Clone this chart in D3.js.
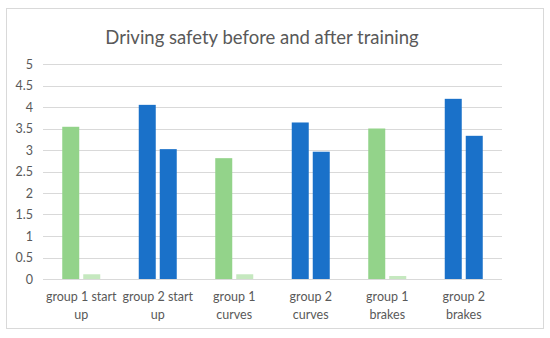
<!DOCTYPE html>
<html>
<head>
<meta charset="utf-8">
<script src="https://cdn.jsdelivr.net/npm/d3@7"></script>
<style>
body { margin: 0; background: #fff; font-family: Lato, "Liberation Sans", sans-serif; }
</style>
</head>
<body>
<svg id="chart" width="550" height="338"></svg>
<script>
var categories = ["group 1 start up", "group 2 start up", "group 1 curves", "group 2 curves", "group 1 brakes", "group 2 brakes"];
var beforeValues = [3.54, 4.05, 2.81, 3.64, 3.5, 4.19];
var afterValues = [0.11, 3.02, 0.11, 2.96, 0.07, 3.33];
var yTicks = [0, 0.5, 1, 1.5, 2, 2.5, 3, 3.5, 4, 4.5, 5];
var catLines = [["group 1 start", "up"], ["group 2 start", "up"], ["group 1", "curves"], ["group 2", "curves"], ["group 1", "brakes"], ["group 2", "brakes"]];

var svg = d3.select("#chart");

// outer frame
svg.append("rect")
	.attr("x", 6.5).attr("y", 8.5)
	.attr("width", 537).attr("height", 320)
	.attr("fill", "#fff").attr("stroke", "#d9d9d9");

var plotL = 43, plotR = 502, plotT = 64, plotB = 279;

var x = d3.scaleBand().domain(categories).range([plotL, plotR]);
var y = d3.scaleLinear().domain([0, 5]).range([plotB, plotT]);

// gridlines
svg.append("g").selectAll("line").data(yTicks).enter()
	.append("line")
	.attr("x1", plotL).attr("x2", plotR)
	.attr("y1", function(d) { return Math.round(y(d)) + 0.5; })
	.attr("y2", function(d) { return Math.round(y(d)) + 0.5; })
	.attr("stroke", "#d9d9d9");

// y tick labels
svg.append("g").selectAll("text").data(yTicks).enter()
	.append("text")
	.attr("x", 33)
	.attr("y", function(d) { return y(d) + 4.5; })
	.attr("text-anchor", "end")
	.attr("font-size", 12.5)
	.attr("fill", "#595959")
	.text(function(d) { return d; });

var barW = 17, gap = 4;
var isGroup1 = function(i) { return i % 2 === 0; };

var rows = categories.map(function(c, i) {
	return { cat: c, i: i, before: beforeValues[i], after: afterValues[i] };
});

var g = svg.append("g");
// first bar of each pair
g.selectAll("rect.before").data(rows).enter()
	.append("rect").attr("class", "before")
	.attr("x", function(d) { return x(d.cat) + x.bandwidth() / 2 - barW - gap / 2; })
	.attr("width", barW)
	.attr("y", function(d) { return y(d.before); })
	.attr("height", function(d) { return plotB - y(d.before); })
	.attr("fill", function(d) { return isGroup1(d.i) ? "#93d38a" : "#1a71c9"; });

// second bar of each pair
g.selectAll("rect.after").data(rows).enter()
	.append("rect").attr("class", "after")
	.attr("x", function(d) { return x(d.cat) + x.bandwidth() / 2 + gap / 2; })
	.attr("width", barW)
	.attr("y", function(d) { return y(d.after); })
	.attr("height", function(d) { return plotB - y(d.after); })
	.attr("fill", function(d) { return isGroup1(d.i) ? "#c5e8bf" : "#1a71c9"; });

// category labels
var lab = svg.append("g").selectAll("text").data(catLines).enter()
	.append("text")
	.attr("text-anchor", "middle")
	.attr("font-size", 12.5)
	.attr("fill", "#595959")
	.attr("x", function(d, i) { return x(categories[i]) + x.bandwidth() / 2; });
lab.selectAll("tspan").data(function(d) { return d; }).enter()
	.append("tspan")
	.attr("x", function() { return d3.select(this.parentNode).attr("x"); })
	.attr("y", function(d, j) { return 301 + j * 18; })
	.text(function(d) { return d; });

// title
svg.append("text")
	.attr("x", 262).attr("y", 44)
	.attr("text-anchor", "middle")
	.attr("font-size", 18.5)
	.attr("fill", "#595959")
	.text("Driving safety before and after training");
</script>
</body>
</html>
